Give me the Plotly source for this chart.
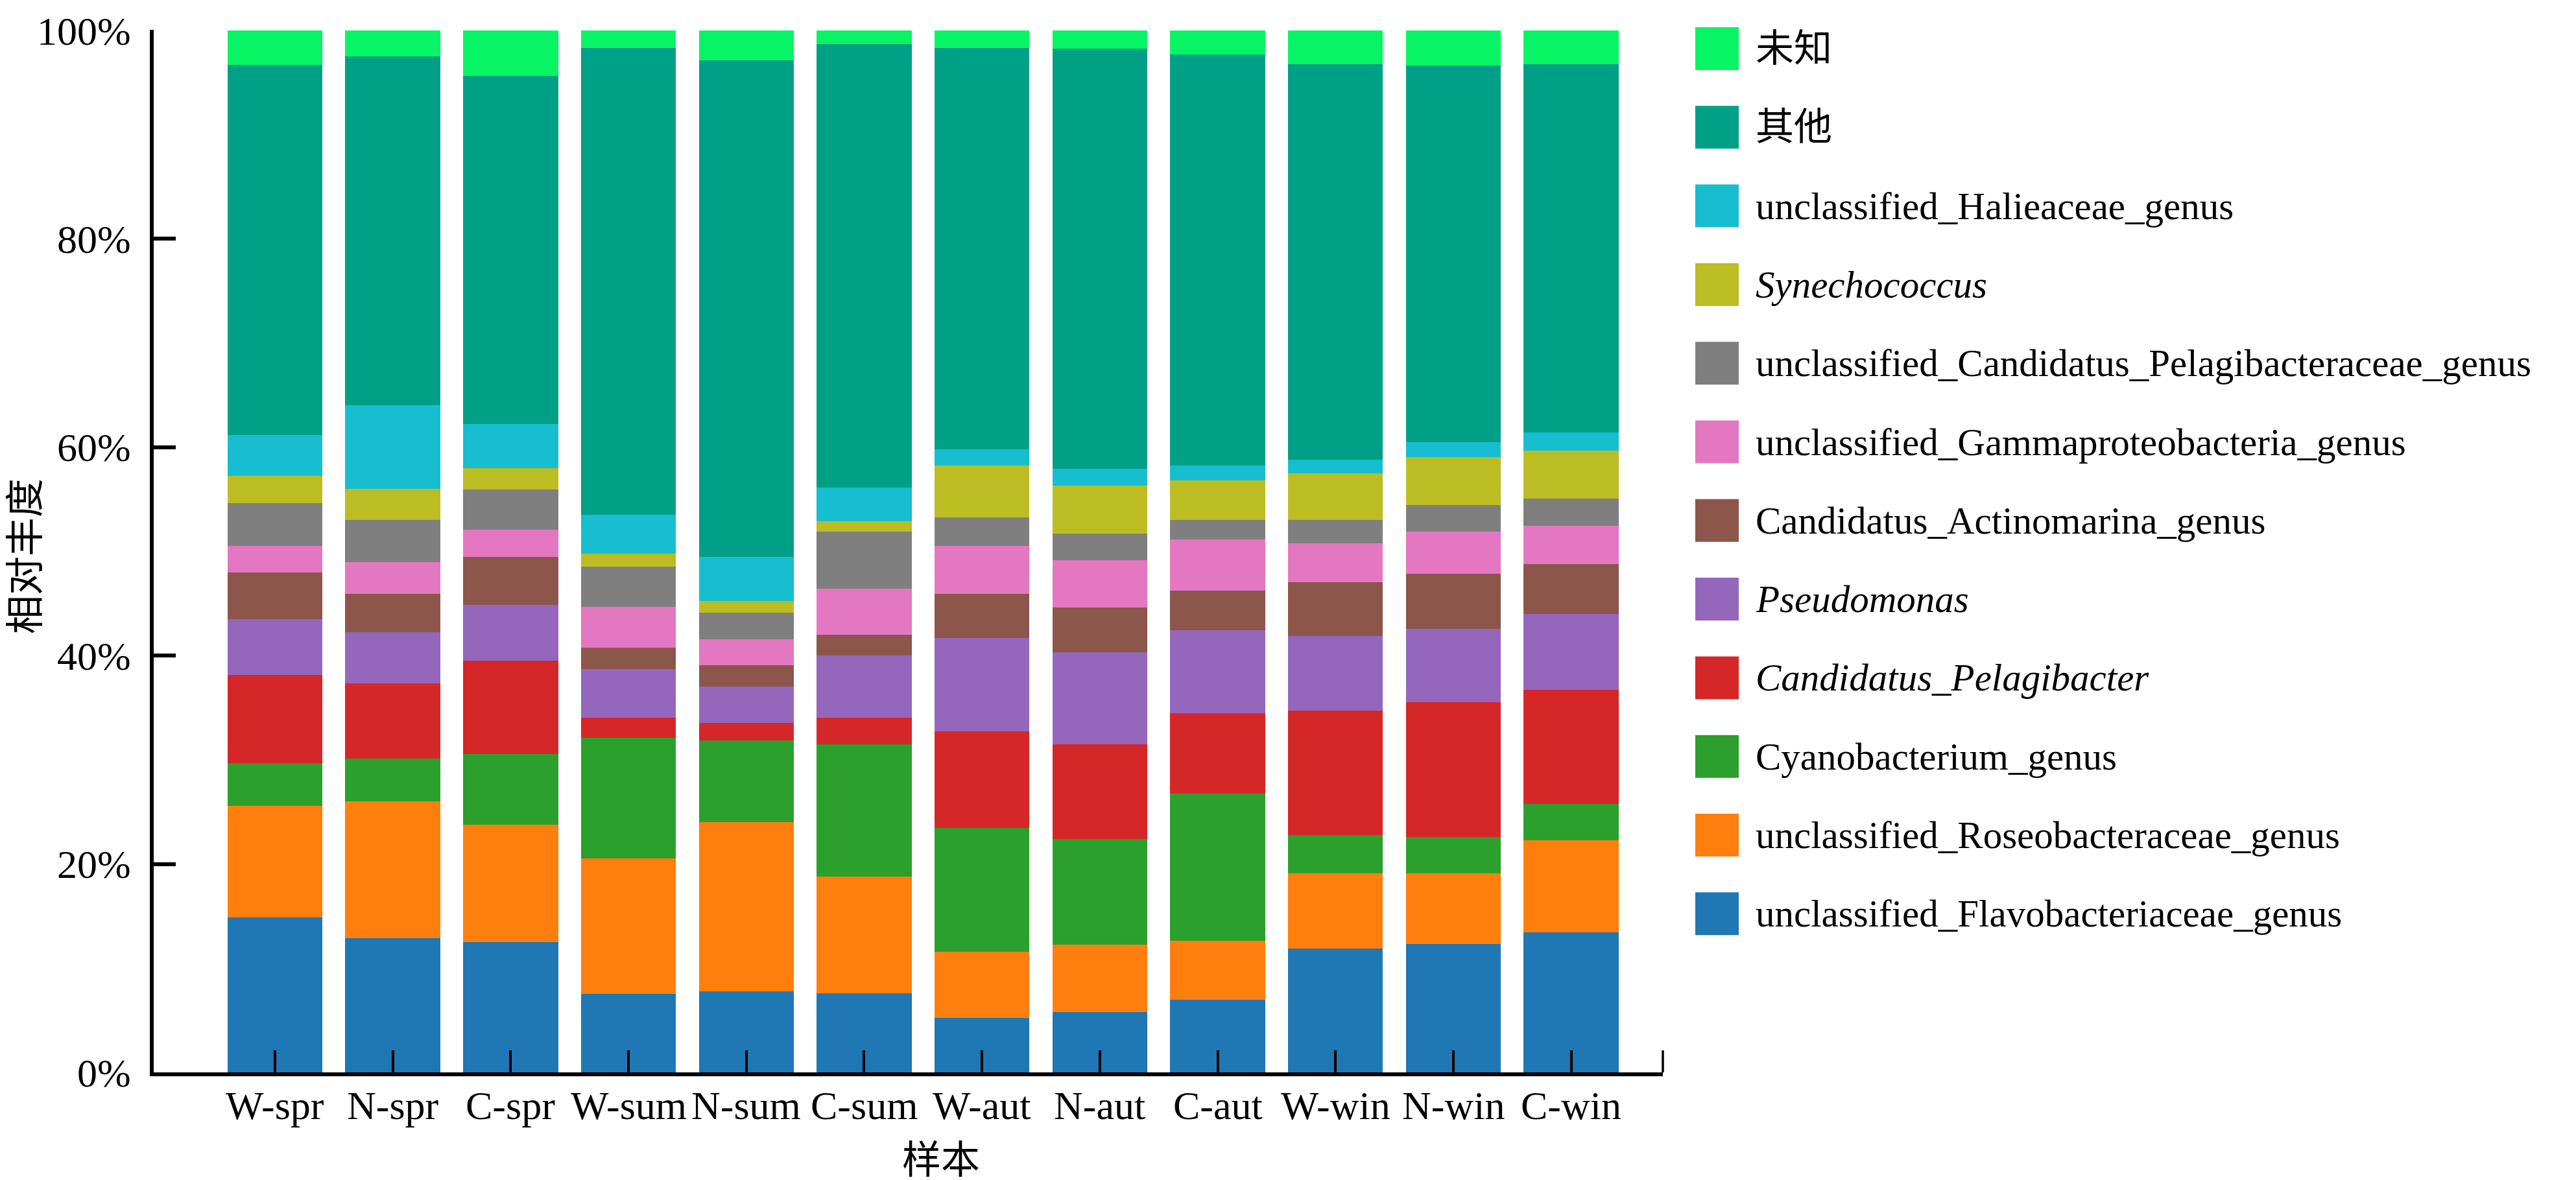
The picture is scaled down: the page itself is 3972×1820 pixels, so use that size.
import plotly.graph_objects as go

# samples (x categories)
samples = ["W-spr", "N-spr", "C-spr", "W-sum", "N-sum", "C-sum",
           "W-aut", "N-aut", "C-aut", "W-win", "N-win", "C-win"]

# relative abundance (%), stacked bottom -> top
flavobacteriaceae = [14.86, 12.89, 12.51, 7.56, 7.77, 7.60, 5.25, 5.81, 7.00, 11.87, 12.34, 13.41]
roseobacteraceae = [10.72, 13.11, 11.23, 12.98, 16.27, 11.19, 6.32, 6.44, 5.64, 7.22, 6.75, 8.88]
cyanobacterium = [4.10, 4.10, 6.83, 11.57, 7.81, 12.68, 11.91, 10.17, 14.13, 3.67, 3.50, 3.50]
pelagibacter = [8.49, 7.22, 8.93, 1.92, 1.71, 2.56, 9.23, 9.05, 7.69, 11.95, 12.94, 10.89]
pseudomonas = [5.30, 4.95, 5.38, 4.70, 3.46, 5.98, 8.96, 8.84, 7.98, 7.18, 7.00, 7.34]
actinomarina = [4.48, 3.67, 4.61, 2.05, 2.05, 1.96, 4.27, 4.31, 3.76, 5.16, 5.33, 4.74]
gammaproteobacteria = [2.60, 3.04, 2.60, 3.88, 2.48, 4.44, 4.57, 4.53, 4.95, 3.72, 4.02, 3.67]
pelagibacteraceae = [4.10, 4.01, 3.85, 3.85, 2.56, 5.47, 2.74, 2.56, 1.84, 2.26, 2.56, 2.61]
synechococcus = [2.57, 3.03, 2.04, 1.28, 1.15, 0.98, 4.99, 4.57, 3.84, 4.48, 4.61, 4.65]
halieaceae = [3.97, 7.99, 4.23, 3.71, 4.23, 3.25, 1.54, 1.66, 1.41, 1.29, 1.41, 1.71]
others = [35.50, 33.51, 33.45, 44.81, 47.64, 42.55, 38.55, 40.30, 39.43, 37.96, 36.15, 35.36]
unknown = [3.31, 2.48, 4.34, 1.69, 2.87, 1.34, 1.67, 1.76, 2.33, 3.24, 3.39, 3.24]

series_names = [
    "unclassified_Flavobacteriaceae_genus",
    "unclassified_Roseobacteraceae_genus",
    "Cyanobacterium_genus",
    "<i>Candidatus_Pelagibacter</i>",
    "<i>Pseudomonas</i>",
    "Candidatus_Actinomarina_genus",
    "unclassified_Gammaproteobacteria_genus",
    "unclassified_Candidatus_Pelagibacteraceae_genus",
    "<i>Synechococcus</i>",
    "unclassified_Halieaceae_genus",
    "其他",
    "未知",
]
series_values = [flavobacteriaceae, roseobacteraceae, cyanobacterium, pelagibacter,
                 pseudomonas, actinomarina, gammaproteobacteria, pelagibacteraceae,
                 synechococcus, halieaceae, others, unknown]
series_colors = ["#1f77b4", "#ff7f0e", "#2ca02c", "#d62728", "#9467bd", "#8c564b",
                 "#e377c2", "#7f7f7f", "#bcbd22", "#17becf", "#00a087", "#07f564"]

y_ticks = [0, 20, 40, 60, 80, 100]

FONT = "Liberation Serif, Times New Roman, Noto Sans CJK SC"
W, H = 3972, 1820
L, R, T, B = 229, 1416, 38, 174
plot_w = W - L - R
plot_h = H - T - B


def px(x):
    return (x - L) / plot_w


def py(y):
    return (H - B - y) / plot_h


fig = go.Figure()

for name, vals, color in zip(series_names, series_values, series_colors):
    fig.add_trace(go.Bar(
        x=samples,
        y=vals,
        name=name,
        marker=dict(color=color, line=dict(width=0)),
        showlegend=False,
    ))

# hand-built legend so the swatches can be large
shapes = []
annotations = []
for i, (name, color) in enumerate(zip(series_names[::-1], series_colors[::-1])):
    yc = 67 + i * 121.3
    shapes.append(dict(
        type="rect", xref="paper", yref="paper",
        x0=px(2606), x1=px(2673), y0=py(yc - 33), y1=py(yc + 33),
        fillcolor=color, line=dict(width=0),
    ))
    annotations.append(dict(
        x=px(2697), y=py(yc), xref="paper", yref="paper",
        text=name, showarrow=False, xanchor="left", yanchor="middle",
        font=dict(family=FONT, size=59, color="black"),
    ))

# x tick labels sit closer to the axis than plotly allows, so place them here
for s in samples:
    annotations.append(dict(
        x=s, y=py(1697), xref="x", yref="paper",
        text=s, showarrow=False, xanchor="center", yanchor="middle",
        font=dict(family=FONT, size=62, color="black"),
    ))

# end tick on the right side of the x axis
shapes.append(dict(
    type="line", xref="paper", yref="paper",
    x0=1, x1=1, y0=0, y1=34 / plot_h,
    line=dict(color="black", width=3.5),
))

# axis titles
annotations.append(dict(
    x=px(32), y=py(850), xref="paper", yref="paper",
    text="相对丰度", showarrow=False, textangle=-90,
    xanchor="center", yanchor="middle",
    font=dict(family=FONT, size=60, color="black"),
))
annotations.append(dict(
    x=px(1443), y=py(1782), xref="paper", yref="paper",
    text="样本", showarrow=False,
    xanchor="center", yanchor="middle",
    font=dict(family=FONT, size=60, color="black"),
))

fig.update_layout(
    barmode="stack",
    bargap=0.194,
    width=W,
    height=H,
    margin=dict(l=L, r=R, t=T, b=B, pad=0, autoexpand=False),
    plot_bgcolor="white",
    paper_bgcolor="white",
    font=dict(family=FONT, size=60, color="black"),
    shapes=shapes,
    annotations=annotations,
    showlegend=False,
)

fig.update_xaxes(
    range=[-1.029, 11.778],
    showline=True, linecolor="black", linewidth=6,
    ticks="inside", ticklen=34, tickwidth=3.5, tickcolor="black",
    showgrid=False, zeroline=False,
    showticklabels=False,
    automargin=False,
)

fig.update_yaxes(
    range=[0, 100.05],
    tickvals=y_ticks,
    ticktext=[f"{v}%" for v in y_ticks],
    showline=True, linecolor="black", linewidth=6,
    ticks="inside", ticklen=34, tickwidth=6, tickcolor="black",
    showgrid=False, zeroline=False,
    tickfont=dict(family=FONT, size=62, color="black"),
    ticklabelstandoff=17,
    ticklabeloverflow="allow",
    automargin=False,
)

fig.write_html("out.html")
